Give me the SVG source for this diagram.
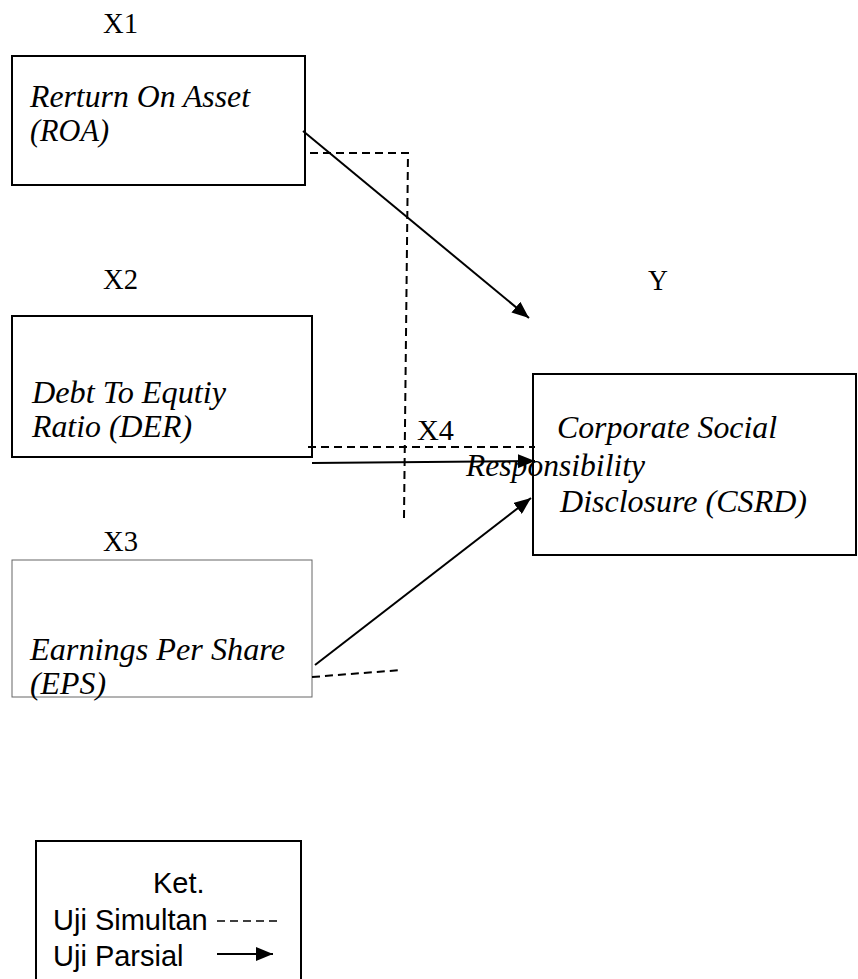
<svg xmlns="http://www.w3.org/2000/svg" width="858" height="979" viewBox="0 0 858 979">
<defs>
<marker id="ah" markerUnits="userSpaceOnUse" markerWidth="18" markerHeight="14" refX="17" refY="7" orient="auto">
<path d="M0,0 L17,7 L0,14 Z" fill="#000"/>
</marker>
<style>
.box{fill:#fff;stroke:#000;stroke-width:2}
.thin{fill:#fff;stroke:#666;stroke-width:1}
.lbl{font-family:"Liberation Serif","Times New Roman",serif;font-size:29px;fill:#000}
.it{font-family:"Liberation Serif","Times New Roman",serif;font-size:31px;font-style:italic;fill:#000}
.sans{font-family:"Liberation Sans",Arial,sans-serif;font-size:29px;fill:#000}
.dash{fill:none;stroke:#000;stroke-width:2;stroke-dasharray:8 5}
.arr{fill:none;stroke:#000;stroke-width:2;marker-end:url(#ah)}
</style>
</defs>
<rect width="858" height="979" fill="#fff"/>

<g id="x1">
<text class="lbl" x="103" y="33" textLength="35" lengthAdjust="spacingAndGlyphs">X1</text>
<rect class="box" x="12" y="56" width="293" height="129"/>
<text class="it" x="30" y="107" textLength="220" lengthAdjust="spacingAndGlyphs">Rerturn On Asset</text>
<text class="it" x="30" y="141" textLength="79" lengthAdjust="spacingAndGlyphs">(ROA)</text>
</g>

<g id="x2">
<text class="lbl" x="103" y="289" textLength="35" lengthAdjust="spacingAndGlyphs">X2</text>
<rect class="box" x="12" y="316" width="300" height="141"/>
<text class="it" x="32" y="403" textLength="194" lengthAdjust="spacingAndGlyphs">Debt To Equtiy</text>
<text class="it" x="32" y="437" textLength="160" lengthAdjust="spacingAndGlyphs">Ratio (DER)</text>
</g>

<g id="x3">
<text class="lbl" x="103" y="551" textLength="35" lengthAdjust="spacingAndGlyphs">X3</text>
<rect class="thin" x="12" y="560" width="300" height="137"/>
<text class="it" x="30" y="660" textLength="255" lengthAdjust="spacingAndGlyphs">Earnings Per Share</text>
<text class="it" x="30" y="694" textLength="76" lengthAdjust="spacingAndGlyphs">(EPS)</text>
</g>

<g id="x4">
<text class="lbl" x="417" y="440" textLength="37" lengthAdjust="spacingAndGlyphs">X4</text>
</g>

<g id="y">
<text class="lbl" x="648" y="290" textLength="20" lengthAdjust="spacingAndGlyphs">Y</text>
<rect class="box" x="533" y="374" width="323" height="181"/>
<text class="it" x="557" y="438" textLength="220" lengthAdjust="spacingAndGlyphs">Corporate Social</text>
<text class="it" x="560" y="512" textLength="247" lengthAdjust="spacingAndGlyphs">Disclosure (CSRD)</text>
</g>

<g id="connectors">
<polyline class="dash" points="310,153 408,153 404,518"/>
<line class="dash" x1="308" y1="447" x2="535" y2="447"/>
<line class="dash" x1="312" y1="677" x2="402" y2="670"/>
<line class="arr" x1="303" y1="131" x2="529" y2="318"/>
<line class="arr" x1="312" y1="463" x2="535" y2="461"/>
<line class="arr" x1="315" y1="665" x2="531" y2="498"/>
</g>

<g id="y-overlay">
<text class="it" x="466" y="476" textLength="179" lengthAdjust="spacingAndGlyphs">Responsibility</text>
</g>

<g id="legend">
<rect class="box" x="36" y="841" width="265" height="160"/>
<text class="sans" x="153" y="893">Ket.</text>
<text class="sans" x="53" y="930">Uji Simultan</text>
<text class="sans" x="53" y="966">Uji Parsial</text>
<line class="dash" x1="217" y1="921" x2="282" y2="921" style="stroke-width:1.5;stroke-dasharray:8 5"/>
<line class="arr" x1="217" y1="954" x2="273" y2="954"/>
</g>
</svg>
